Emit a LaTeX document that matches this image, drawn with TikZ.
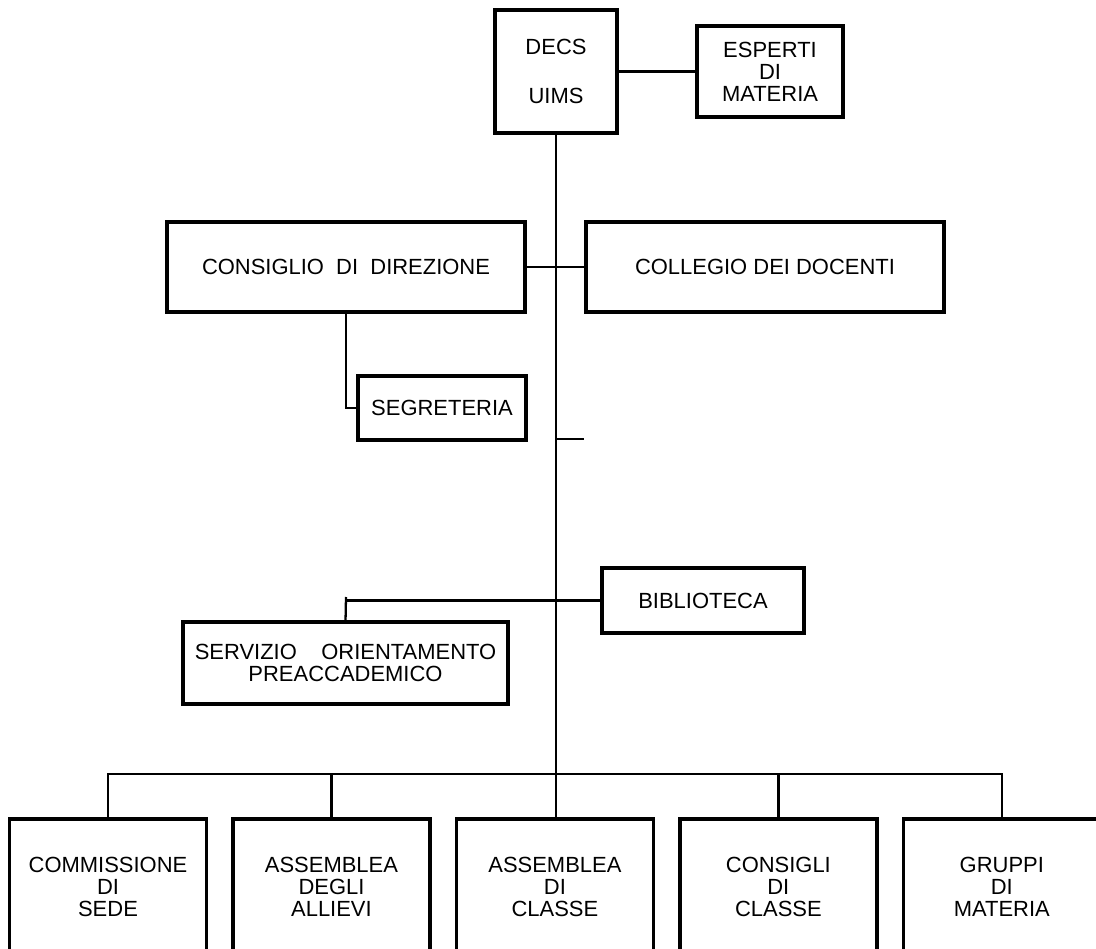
\documentclass[tikz,border=0pt]{standalone}
\usepackage{fontspec}
\setmainfont{Liberation Sans}
\usetikzlibrary{positioning}

\begin{document}
\begin{tikzpicture}[
    x=0.02cm, y=-0.02cm,
    box/.style={rectangle, draw, line width=2pt, inner sep=0pt, outer sep=0pt, align=center,
      font=\fontsize{12.5}{12.5}\selectfont},
    unit/.style={box, minimum width=3.94cm, minimum height=2.72cm},
    link/.style={line width=1.3pt},
  ]
  \useasboundingbox (0,0) rectangle (1096,949);
  \clip (0,0) rectangle (1096,949);

  % Top
  \node[box, minimum width=2.44cm, minimum height=2.46cm] (decs) at (556,71.5) {DECS\\[15.5pt]UIMS};
  \node[box, minimum width=2.92cm, minimum height=1.82cm] (esperti) at (770,71.5) {ESPERTI\\DI\\MATERIA};

  % Direzione
  \node[box, minimum width=7.16cm, minimum height=1.8cm] (consiglio) at (346,267) {CONSIGLIO\ \ DI\ \ DIREZIONE};
  \node[box, minimum width=7.16cm, minimum height=1.8cm] (collegio) at (765,267) {COLLEGIO DEI DOCENTI};
  \node[box, minimum width=3.36cm, minimum height=1.28cm] (segreteria) at (442,408) {SEGRETERIA};
  \coordinate (tick) at (584,439);

  % Servizi
  \node[box, minimum width=4.04cm, minimum height=1.3cm] (biblioteca) at (703,600.5) {BIBLIOTECA};
  \node[box, minimum width=6.5cm, minimum height=1.64cm] (servizio) at (345.5,663) {SERVIZIO\ \ \ \ ORIENTAMENTO\\PREACCADEMICO};
  \coordinate (servtop) at (346,597);

  % Organi
  \node[unit] (commissione) at (108,887) {COMMISSIONE\\DI\\SEDE};
  \node[unit, right=0.53cm of commissione] (allievi) {ASSEMBLEA\\DEGLI\\ALLIEVI};
  \node[unit, right=0.53cm of allievi] (assemblea) {ASSEMBLEA\\DI\\CLASSE};
  \node[unit, right=0.53cm of assemblea] (consigli) {CONSIGLI\\DI\\CLASSE};
  \node[unit, right=0.53cm of consigli] (gruppi) {GRUPPI\\DI\\MATERIA};
  \coordinate (bus) at (556,774);

  % Connections
  \draw[link] (decs) -- (esperti);
  \draw[link] (decs.south) -- (decs.south |- assemblea.north);
  \draw[link] (consiglio) -- (collegio);
  \draw[link] (consiglio.south) |- (segreteria.west);
  \draw[link] (tick -| decs.south) -- (tick);
  \draw[link] (biblioteca.west) -- (biblioteca.west -| servtop);
  \draw[link] (servizio.north) -- (servtop);
  \draw[link] (commissione.north) |- (bus) -| (gruppi.north);
  \draw[link] (allievi.north) -- (allievi.north |- bus);
  \draw[link] (consigli.north) -- (consigli.north |- bus);

\end{tikzpicture}
\end{document}
